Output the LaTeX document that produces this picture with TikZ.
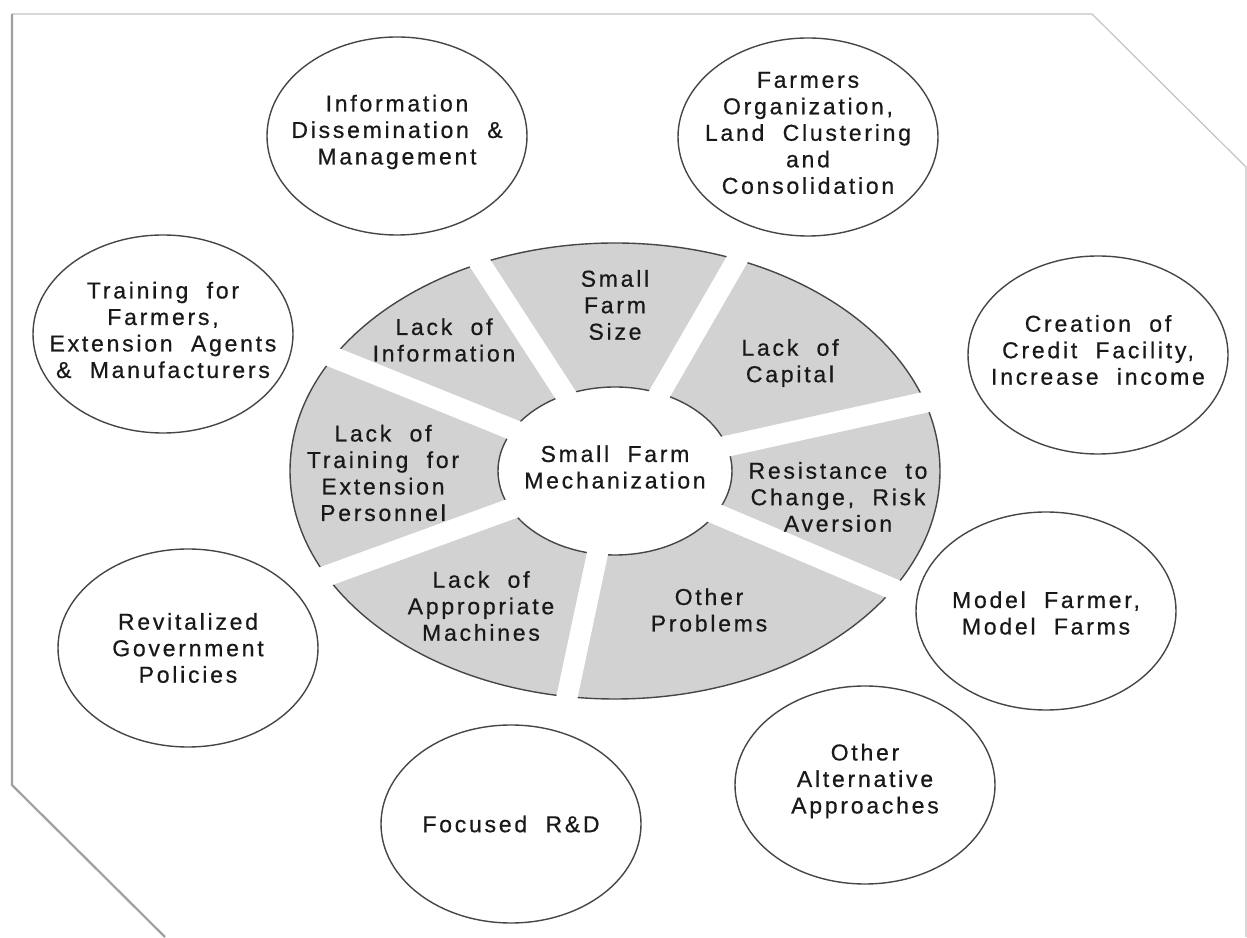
\documentclass[tikz,border=0pt]{standalone}
\usepackage{fontspec}
\setmainfont{Liberation Sans}[LetterSpace=12,WordSpace=2,FakeBold=0.6]
\usetikzlibrary{shapes.geometric}
\definecolor{sectorgray}{RGB}{210,210,210}
\definecolor{edgegray}{RGB}{70,70,70}
\definecolor{txtcol}{RGB}{25,25,25}
\definecolor{framegray}{RGB}{195,195,195}
\definecolor{shadowgray}{RGB}{160,160,160}
\newcommand\dfont{\fontsize{23}{26.5}\selectfont}
\begin{document}
\begin{tikzpicture}[x=1pt,y=1pt,
  outerc/.style={ellipse, draw=edgegray, line width=1.4pt, fill=white,
    minimum width=260pt, minimum height=198pt, inner sep=0pt},
  lbl/.style={align=center, text=txtcol, font=\dfont, inner sep=0pt},
  gapline/.style={white, line width=21pt},
  ringedge/.style={edgegray, line width=1.4pt}]
\useasboundingbox (0,0) rectangle (1247,937);
% frame
\draw[framegray, line width=1.2pt] (12,923) -- (1092,923) -- (1246,770) -- (1246,0);
\draw[shadowgray, line width=2.2pt] (165,0) -- (12,152) -- (12,923);
% central ring
\coordinate (C) at (615,466);
\fill[sectorgray] (C) ellipse [x radius=325, y radius=228];
\draw[ringedge] (C) ellipse [x radius=325, y radius=228];
\draw[ringedge, fill=white] (C) ellipse [x radius=117, y radius=84];
\begin{scope}
  \clip (C) ellipse [x radius=333, y radius=236];
  \foreach \a in {123,60,12.5,-23,-102,200,158}
    \draw[gapline] (C) -- ++(\a:420);
\end{scope}
% sector labels
\node[lbl] (size) at (615,632) {Small\\Farm\\Size};
\node[lbl] (capital) at (790,574) {Lack of\\Capital};
\node[lbl] (resist) at (838,440) {Resistance to\\Change, Risk\\Aversion};
\node[lbl] (otherp) at (709,327) {Other\\Problems};
\node[lbl] (machines) at (481,331) {Lack of\\Appropriate\\Machines};
\node[lbl] (training) at (383,464) {Lack of\\Training for\\Extension\\Personnel};
\node[lbl] (info) at (444,597) {Lack of\\Information};
\node[lbl] (hub) at (615,470) {Small Farm\\Mechanization};
% outer circles
\node[outerc] (o1) at (397,801) {};
\node[outerc] (o2) at (808,800) {};
\node[outerc] (o3) at (1098,582) {};
\node[outerc] (o4) at (1046,326) {};
\node[outerc] (o5) at (865,152) {};
\node[outerc] (o6) at (511,113) {};
\node[outerc] (o7) at (188,289) {};
\node[outerc] (o8) at (163,603) {};
\node[lbl] (t1) at ([yshift=4pt]o1.center) {Information\\Dissemination \&\\Management};
\node[lbl] (t2) at ([yshift=4pt]o2.center) {Farmers\\Organization,\\Land Clustering\\and\\Consolidation};
\node[lbl] (t3) at ([yshift=5pt]o3.center) {Creation of\\Credit Facility,\\Increase income};
\node[lbl] (t4) at ([yshift=-2pt]o4.center) {Model Farmer,\\Model Farms};
\node[lbl] (t5) at ([yshift=4pt]o5.center) {Other\\Alternative\\Approaches};
\node[lbl] (t6) at (o6.center) {Focused R\&D};
\node[lbl] (t7) at (o7.center) {Revitalized\\Government\\Policies};
\node[lbl] (t8) at ([yshift=4pt]o8.center) {Training for\\Farmers,\\Extension Agents\\\& Manufacturers};
\end{tikzpicture}
\end{document}
